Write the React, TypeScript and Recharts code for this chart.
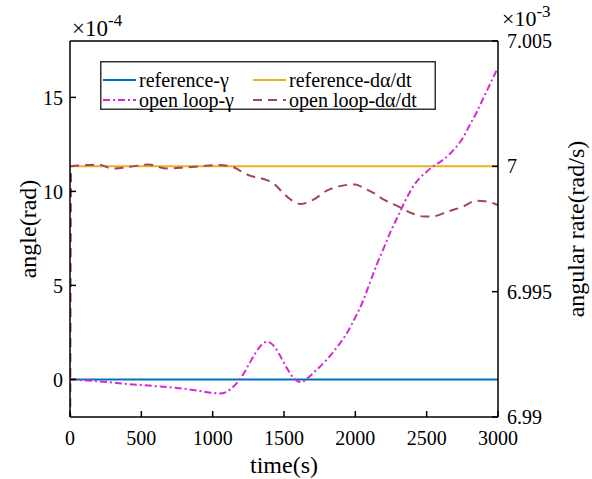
import { LineChart, Line, XAxis, YAxis, Legend } from 'recharts';

const FONT = 'Liberation Serif, Tinos, Times New Roman, DejaVu Serif, serif';

const timeTicks = [0, 500, 1000, 1500, 2000, 2500, 3000];
const angleTicks = [0, 5, 10, 15];
const rateTicks = [6.99, 6.995, 7, 7.005];

// reference signals (angle in 1e-4 rad, rate in 1e-3 rad/s)
const refTime = [0, 3000];
const refGamma = [0, 0];
const refRate = [7, 7];

// open loop gamma, 1e-4 rad
const olGammaTime = [
  0, 100, 200, 300, 400, 500, 600, 700, 800, 900,
  1000, 1050, 1100, 1150, 1200, 1250, 1300, 1350, 1380, 1420,
  1470, 1520, 1570, 1620, 1670, 1720, 1800, 1870, 1940, 2000,
  2050, 2100, 2150, 2200, 2250, 2300, 2350, 2400, 2450, 2500,
  2550, 2600, 2650, 2700, 2750, 2800, 2850, 2900, 2950, 3000,
];
const olGamma = [
  0, -0.05, -0.1, -0.17, -0.24, -0.3, -0.36, -0.42, -0.5, -0.6,
  -0.72, -0.75, -0.65, -0.35, 0.1, 0.75, 1.4, 1.9, 2.0, 1.85,
  1.3, 0.6, 0.05, -0.15, 0.1, 0.45, 1.05, 1.7, 2.45, 3.3,
  4.1, 5.1, 6.1, 7.0, 7.9, 8.7, 9.5, 10.2, 10.7, 11.05,
  11.35, 11.6, 11.9, 12.3, 12.8, 13.5, 14.2, 15.0, 15.8, 16.6,
];

// open loop dα/dt, 1e-3 rad/s
const olRateTime = [
  0, 8, 100, 200, 300, 420, 550, 680, 800, 900,
  1030, 1130, 1200, 1260, 1320, 1380, 1440, 1500, 1560, 1620,
  1700, 1800, 1900, 2000, 2070, 2130, 2200, 2300, 2400, 2480,
  2550, 2650, 2750, 2850, 2920, 3000,
];
const olRate = [
  6.985, 7.0, 7.00004, 7.00007, 6.99991, 6.99998, 7.00007, 6.99991, 6.99995, 7.0,
  7.00005, 7.0, 6.9998, 6.99963, 6.99955, 6.99945, 6.99925, 6.9989, 6.99862, 6.9985,
  6.99865, 6.99903, 6.99922, 6.99928, 6.9991, 6.99893, 6.99867, 6.9984, 6.99812, 6.998,
  6.99801, 6.9982, 6.99838, 6.99863, 6.9986, 6.99845,
];

const toPoints = (t: number[], v: number[]) => t.map((x, i) => ({ t: x, v: v[i] }));

const series = [
  { name: 'reference-γ', data: toPoints(refTime, refGamma), axis: 'left', color: '#0072BD', dash: undefined },
  { name: 'reference-dα/dt', data: toPoints(refTime, refRate), axis: 'right', color: '#EDB120', dash: undefined },
  { name: 'open loop-γ', data: toPoints(olGammaTime, olGamma), axis: 'left', color: '#D42AD4', dash: '7 3 2 3' },
  { name: 'open loop-dα/dt', data: toPoints(olRateTime, olRate), axis: 'right', color: '#A0455A', dash: '9 6' },
];

const tickStyle = { fill: '#000', fontSize: 20, fontFamily: FONT };
const axisLine = { stroke: '#000', strokeWidth: 1.5 };

function LegendBox() {
  return (
    <svg width={336} height={49} style={{ display: 'block', overflow: 'visible' }}>
      <rect x={0.75} y={0.75} width={334.5} height={47.5} fill="#fff" stroke="#333" strokeWidth={1.5} />
      {series.map((s, i) => {
        const x0 = i % 2 === 0 ? 3 : 153;
        const y = i < 2 ? 19 : 39;
        return (
          <g key={s.name}>
            <line x1={x0} x2={x0 + 33} y1={y} y2={y} stroke={s.color} strokeWidth={2} strokeDasharray={s.dash} />
            <text x={x0 + 36} y={y + 7} fontSize={20} fontFamily={FONT} fill="#000">
              {s.name}
            </text>
          </g>
        );
      })}
    </svg>
  );
}

function VerticalTitle(props: any) {
  const { viewBox, value, cx } = props;
  const x = viewBox.x + cx;
  const y = viewBox.y + viewBox.height / 2;
  return (
    <text x={x} y={y} transform={`rotate(-90, ${x}, ${y})`} textAnchor="middle" dominantBaseline="central"
      fontSize={24} fontFamily={FONT} fill="#000">
      {value}
    </text>
  );
}

export default function App() {
  return (
    <div style={{ position: 'absolute', left: 0, top: 0, width: 592, height: 479, background: '#fff', fontFamily: FONT }}>
      <LineChart width={592} height={479} margin={{ top: 40, right: 0, bottom: 0, left: 0 }}>
        <XAxis xAxisId="bottom" dataKey="t" type="number" domain={[0, 3000]} ticks={timeTicks} height={62}
          allowDataOverflow tick={tickStyle} axisLine={axisLine} tickLine={axisLine} tickSize={-6} tickMargin={20}
          label={{ value: 'time(s)', position: 'insideBottom', offset: 6, fontSize: 24, fontFamily: FONT, fill: '#000' }} />
        <XAxis xAxisId="top" orientation="top" type="number" domain={[0, 3000]} ticks={timeTicks} height={1}
          allowDataOverflow tick={false} axisLine={axisLine} tickLine={axisLine} tickSize={-6} />
        <YAxis yAxisId="left" type="number" domain={[-2, 18]} ticks={angleTicks} width={70} allowDataOverflow
          tick={tickStyle} axisLine={axisLine} tickLine={axisLine} tickSize={-6} tickMargin={13}
          label={<VerticalTitle value="angle(rad)" cx={28} />} />
        <YAxis yAxisId="right" orientation="right" type="number" domain={[6.99, 7.005]} ticks={rateTicks} width={94}
          allowDataOverflow tick={tickStyle} axisLine={axisLine} tickLine={axisLine} tickSize={-6} tickMargin={15}
          tickFormatter={(v: number) => String(Number(v.toFixed(3)))}
          label={<VerticalTitle value="angular rate(rad/s)" cx={78} />} />
        {series.map((s) => (
          <Line key={s.name} name={s.name} data={s.data} dataKey="v" xAxisId="bottom" yAxisId={s.axis}
            type="monotone" stroke={s.color} strokeWidth={2} strokeDasharray={s.dash} dot={false}
            isAnimationActive={false} />
        ))}
        <Legend layout="horizontal" verticalAlign="middle" align="center" content={() => <LegendBox />}
          wrapperStyle={{ left: 100, top: 61, width: 336, height: 49 }} />
      </LineChart>
      <svg width={592} height={50} style={{ position: 'absolute', left: 0, top: 0, pointerEvents: 'none' }}>
        <text x={72} y={36} fontSize={23} fontFamily={FONT} fill="#000">
          ×10<tspan dy={-10} fontSize={17}>-4</tspan>
        </text>
        <text x={502} y={26} fontSize={22} fontFamily={FONT} fill="#000">
          ×10<tspan dy={-9} fontSize={17}>-3</tspan>
        </text>
      </svg>
    </div>
  );
}
